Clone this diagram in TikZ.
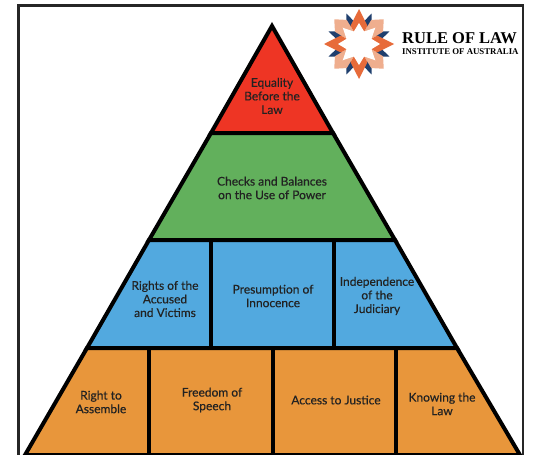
\documentclass[tikz,border=0pt]{standalone}
\usepackage{fontspec}
\setmainfont{Lato}[BoldFont=Lato,BoldFeatures={FakeBold=0.35}]
\newfontfamily\logofont{Liberation Serif}
\usetikzlibrary{positioning}
\definecolor{redband}{HTML}{EE3524}
\definecolor{greenband}{HTML}{62B05C}
\definecolor{blueband}{HTML}{52A9DF}
\definecolor{orangeband}{HTML}{E8963B}
\definecolor{logoorange}{HTML}{E76B3A}
\definecolor{logopeach}{HTML}{EFAE8E}
\definecolor{logonavy}{HTML}{1F3F6E}
\definecolor{labeltext}{HTML}{222222}
\tikzset{
  band/.style={draw=black,line width=4pt,line join=miter,miter limit=3},
  divider/.style={draw=black,line width=3.6pt},
  label/.style={font=\bfseries\fontsize{12}{13.6}\selectfont,text=labeltext,align=center,inner sep=0pt}
}
\begin{document}
\begin{tikzpicture}[x=1pt,y=-1pt]
\useasboundingbox (0,0) rectangle (533,455);
\fill[white] (0,0) rectangle (533,455);
\draw[black!85,line width=2.4pt] (18.5,5.5) rectangle (523,458);
% pyramid
\path[band,fill=redband] (272,26) -- (211,133) -- (333,133) -- cycle;
\path[band,fill=greenband] (211,133) -- (149,240) -- (395,240) -- (333,133) -- cycle;
\path[band,fill=blueband] (149,240) -- (87,348) -- (457,348) -- (395,240) -- cycle;
\path[band,fill=orangeband] (87,348) -- (25,455) -- (520,455) -- (457,348) -- cycle;
\draw[divider] (211,240) -- (211,348);
\draw[divider] (334,240) -- (334,348);
\draw[divider] (149,348) -- (149,455);
\draw[divider] (273,348) -- (273,455);
\draw[divider] (396,348) -- (396,455);
% labels
\node[label] (equality) at (272,96) {Equality\\Before the\\Law};
\node[label] (checks) at (272,188) {Checks and Balances\\on the Use of Power};
\node[label] (rights) at (165,299) {Rights of the\\Accused\\and Victims};
\node[label] (presumption) at (273,296) {Presumption of\\Innocence};
\node[label] (independence) at (377,296) {Independence\\of the\\Judiciary};
\node[label] (assemble) at (101,402) {Right to\\Assemble};
\node[label] (speech) at (212,400) {Freedom of\\Speech};
\node[label] (justice) at (336,400) {Access to Justice};
\node[label] (knowing) at (442,404) {Knowing the\\Law};
% logo
\begin{scope}[shift={(359,44)}]
\foreach \a in {22.5,67.5,...,337.5}
  \fill[logonavy] (\a:33) -- (\a-16:20) -- (\a+16:20) -- cycle;
\foreach \a in {45,135,225,315}
  \fill[logopeach] (\a:35) -- (\a-18:27) -- (\a-22.5:13) -- (\a+22.5:13) -- (\a+18:27) -- cycle;
\foreach \a in {0,90,180,270}
  \fill[logoorange] (\a:35) -- (\a-25:20) -- (\a-22.5:13) -- (\a+22.5:13) -- (\a+25:20) -- cycle;
\fill[white] (0:21) -- (22.5:13.5) -- (45:23) -- (67.5:13.5) -- (90:21) -- (112.5:13.5)
  -- (135:23) -- (157.5:13.5) -- (180:21) -- (202.5:13.5) -- (225:23) -- (247.5:13.5)
  -- (270:21) -- (292.5:13.5) -- (315:23) -- (337.5:13.5) -- cycle;
\end{scope}
\node[anchor=west,inner sep=0pt,font=\logofont\bfseries\fontsize{16.5}{18}\selectfont] (logotitle) at (402,38) {RULE OF LAW};
\node[below=4.5pt of logotitle.south west,anchor=north west,inner sep=0pt,font=\logofont\bfseries\fontsize{8.8}{10}\selectfont] (logosub) {INSTITUTE OF AUSTRALIA};
\end{tikzpicture}
\end{document}
